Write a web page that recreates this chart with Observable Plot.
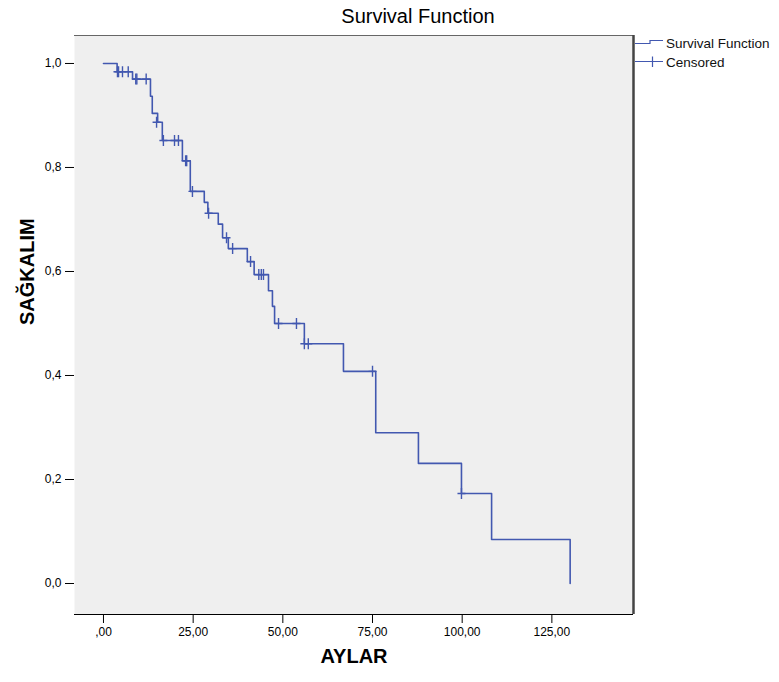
<!DOCTYPE html>
<html>
<head>
<meta charset="utf-8">
<script src="https://cdn.jsdelivr.net/npm/d3@7"></script>
<script src="https://cdn.jsdelivr.net/npm/@observablehq/plot@0.6"></script>
<style>
  html, body { margin: 0; padding: 0; background: #fff; }
  #wrap { position: relative; width: 779px; height: 682px; overflow: hidden; font-family: "Liberation Sans", Arial, sans-serif; }
  #chart { position: absolute; left: 0; top: 0; }
  #title { position: absolute; top: 5px; left: 318px; width: 200px; text-align: center; font-size: 20px; color: #000; white-space: nowrap; }
  #legend { position: absolute; left: 633px; top: 34px; width: 146px; height: 40px; }
  .ltxt { position: absolute; left: 33px; font-size: 13.5px; color: #111; white-space: nowrap; }
</style>
</head>
<body>
<div id="wrap">
  <div id="chart"></div>
  <div id="title">Survival Function</div>
  <div id="legend">
    <svg width="32" height="40" style="position:absolute;left:0;top:0">
      <path d="M2,9.5H17V6.5H30" fill="none" stroke="#4258b0" stroke-width="1.2"/>
      <path d="M2,27.5H30M19.5,22.5V33" fill="none" stroke="#4258b0" stroke-width="1.2"/>
    </svg>
    <div class="ltxt" style="top:2px">Survival Function</div>
    <div class="ltxt" style="top:21px">Censored</div>
  </div>
</div>
<script>
// Kaplan–Meier survival step points (time in months, survival proportion)
const eventTimes = [0, 3.8, 8.1, 13.1, 13.6, 15.1, 16.4, 22.0, 24.2, 28.1, 29.1, 32.0, 33.2, 34.8, 40.1, 42.0, 46.0, 47.1, 47.7, 56.0, 66.9, 75.9, 87.8, 99.8, 108.2, 130.1];
const survival   = [1.0, 0.984, 0.970, 0.937, 0.904, 0.887, 0.852, 0.813, 0.754, 0.733, 0.712, 0.691, 0.665, 0.644, 0.619, 0.594, 0.563, 0.533, 0.500, 0.461, 0.408, 0.290, 0.231, 0.173, 0.0846, 0.0];

// Censored observations
const censorTimes = [3.9, 4.2, 5.3, 6.9, 9.0, 9.3, 11.9, 14.8, 16.7, 19.8, 20.9, 22.9, 23.2, 24.8, 29.3, 34.3, 36.0, 41.0, 43.3, 44.0, 44.6, 48.8, 53.8, 56.0, 57.1, 75.0, 99.8];
const censorSurv  = [0.984, 0.984, 0.984, 0.984, 0.970, 0.970, 0.970, 0.887, 0.852, 0.852, 0.852, 0.813, 0.813, 0.754, 0.712, 0.665, 0.644, 0.619, 0.594, 0.594, 0.594, 0.500, 0.500, 0.461, 0.461, 0.408, 0.173];

// Axis ticks and labels
const xTicks = [0, 25, 50, 75, 100, 125];
const xTickLabels = [",00", "25,00", "50,00", "75,00", "100,00", "125,00"];
const yTicks = [0, 0.2, 0.4, 0.6, 0.8, 1.0];
const yTickLabels = ["0,0", "0,2", "0,4", "0,6", "0,8", "1,0"];

const xDomain = [-8.08, 147.76];
const yDomain = [-0.0596, 1.0538];

const curve = eventTimes.map((t, i) => ({t, s: survival[i]}));
const censored = censorTimes.map((t, i) => ({t, s: censorSurv[i]}));

const plusSymbol = {
  draw(ctx) {
    ctx.moveTo(-4, 0); ctx.lineTo(4, 0);
    ctx.moveTo(0, -5.5); ctx.lineTo(0, 5.5);
  }
};

const color = "#4258b0";

const chart = Plot.plot({
  width: 779,
  height: 682,
  marginLeft: 74,
  marginRight: 146,
  marginTop: 35,
  marginBottom: 68,
  style: {background: "transparent", fontFamily: "'Liberation Sans', Arial, sans-serif", fontSize: "12px", color: "#000"},
  x: {domain: xDomain, ticks: xTicks, tickFormat: d => xTickLabels[xTicks.indexOf(d)], tickSize: 9, tickPadding: 4, label: null},
  y: {domain: yDomain, ticks: yTicks, tickFormat: d => yTickLabels[yTicks.indexOf(d)], tickSize: 9, tickPadding: 4, label: null},
  marks: [
    Plot.frame({fill: "#efefef", stroke: null}),
    Plot.ruleY([yDomain[1]], {stroke: "#666"}),
    Plot.ruleY([yDomain[0]], {stroke: "#000"}),
    Plot.ruleX([xDomain[1]], {stroke: "#444", strokeWidth: 2.5}),
    Plot.line(curve, {x: "t", y: "s", curve: "step-after", stroke: color, strokeWidth: 1.6}),
    Plot.dot(censored, {x: "t", y: "s", symbol: plusSymbol, r: 4, fill: "none", stroke: color, strokeWidth: 1.4}),
    Plot.text(["SAĞKALIM"], {frameAnchor: "left", dx: -47, rotate: -90, fontWeight: "bold", fontSize: 20, fill: "#000"}),
    Plot.text(["AYLAR"], {frameAnchor: "bottom", dy: 48, fontWeight: "bold", fontSize: 20, fill: "#000"})
  ]
});
document.getElementById("chart").appendChild(chart);
</script>
</body>
</html>
